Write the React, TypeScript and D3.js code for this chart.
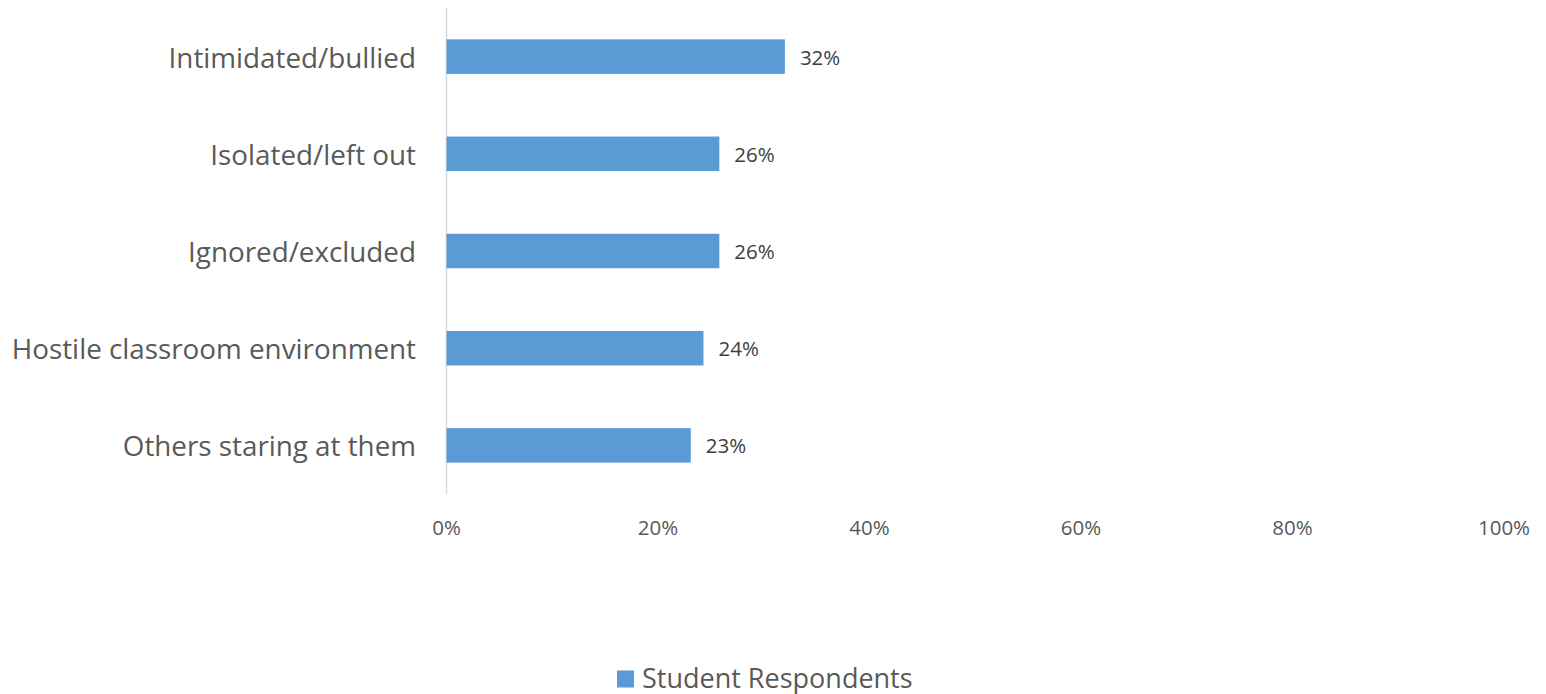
import React from "react";
import * as d3 from "d3";

const categories = [
  "Intimidated/bullied",
  "Isolated/left out",
  "Ignored/excluded",
  "Hostile classroom environment",
  "Others staring at them",
];
const values = [0.32, 0.258, 0.258, 0.243, 0.231];
const xTicks = [0, 0.2, 0.4, 0.6, 0.8, 1.0];
const seriesName = "Student Respondents";

const W = 1546;
const H = 694;
const FONT = "'Open Sans', 'DejaVu Sans', sans-serif";

export default function App() {
  const x = d3.scaleLinear().domain([0, 1]).range([446.5, 1504]);
  const y = d3
    .scaleBand<string>()
    .domain(categories)
    .range([8, 494])
    .paddingInner(0.645)
    .paddingOuter(0.3225);
  const fmt = d3.format(".0%");

  return (
    <svg
      width={W}
      height={H}
      style={{ position: "absolute", left: 0, top: 0, background: "#fff" }}
      fontFamily={FONT}
    >
      <line x1={x(0)} x2={x(0)} y1={8} y2={494} stroke="#D9D9D9" strokeWidth={1.5} />
      {categories.map((c, i) => (
        <g key={c}>
          <rect
            x={x(0)}
            y={y(c)!}
            width={x(values[i]) - x(0)}
            height={y.bandwidth()}
            fill="#5B9BD5"
          />
          <text
            x={x(values[i]) + 15}
            y={y(c)! + y.bandwidth() / 2}
            dominantBaseline="central"
            fontSize={20.5}
            fill="#404040"
          >
            {fmt(values[i])}
          </text>
          <text
            x={416}
            y={y(c)! + y.bandwidth() / 2}
            dominantBaseline="central"
            textAnchor="end"
            fontSize={27.8}
            fill="#595959"
          >
            {c}
          </text>
        </g>
      ))}
      {xTicks.map((t) => (
        <text
          key={t}
          x={x(t)}
          y={527}
          dominantBaseline="central"
          textAnchor="middle"
          fontSize={20.5}
          fill="#595959"
        >
          {fmt(t)}
        </text>
      ))}
      <rect x={617} y={670.5} width={17} height={17} fill="#5B9BD5" />
      <text x={642} y={677} dominantBaseline="central" fontSize={27} fill="#595959">
        {seriesName}
      </text>
    </svg>
  );
}
